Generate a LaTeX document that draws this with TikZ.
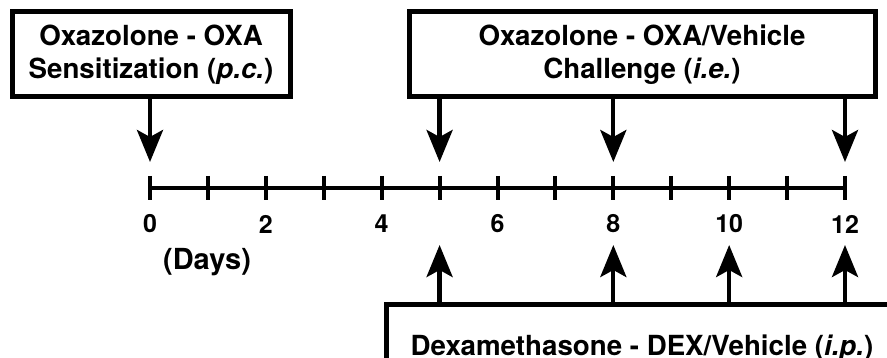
\documentclass[tikz,border=0pt]{standalone}
\usepackage{fontspec}
\setmainfont{TeX Gyre Heros}
\usetikzlibrary{arrows.meta,calc}
\begin{document}
\begin{tikzpicture}[x=1pt,y=-1pt,
  box/.style={draw, line width=5pt, align=center, inner sep=0pt,
    font=\bfseries\fontsize{27.7}{33}\selectfont},
  arr/.style={line width=4.3pt, -{Stealth[length=32pt 0, width=26pt 0, inset=7pt 0]}},
  axisline/.style={line width=4pt},
  num/.style={font=\bfseries\fontsize{25}{30}\selectfont},
  unitlabel/.style={font=\bfseries\fontsize{29}{34}\selectfont}
]
\useasboundingbox (0,0) rectangle (887,358);

% treatment boxes
\node[box, minimum width=278pt, minimum height=85pt] (sens) at (151,54.5)
  {Oxazolone - OXA\\Sensitization (\textit{p.c.})};
\node[box, minimum width=466pt, minimum height=85pt] (chal) at (642,54.5)
  {Oxazolone - OXA/Vehicle\\Challenge (\textit{i.e.})};
\node[box, minimum width=512pt, minimum height=86pt] (dex) at (642,348)
  {Dexamethasone - DEX/Vehicle (\textit{i.p.})};

% time axis with one tick per day
\foreach \i in {0,...,12}
  \coordinate (t\i) at ({150+57.917*\i},188);
\draw[axisline] (t0) -- (t12);
\foreach \i in {0,...,12}
  \draw[axisline] ($(t\i)+(0,-12)$) -- ($(t\i)+(0,12)$);
\foreach \i in {0,2,...,12}
  \node[num] (n\i) at ($(t\i)+(0,36)$) {\i};
\node[unitlabel] (days) at (207,262) {(Days)};

% arrow tips above and below the axis
\foreach \i in {0,5,8,12}
  \coordinate (d\i) at ($(t\i)+(0,-26)$);
\foreach \i in {5,8,10,12}
  \coordinate (u\i) at ($(t\i)+(0,57)$);

% sensitization and challenge days
\draw[arr] (sens.south -| t0) -- (d0);
\foreach \i in {5,8,12}
  \draw[arr] (chal.south -| t\i) -- (d\i);

% dexamethasone / vehicle days
\foreach \i in {5,8,10,12}
  \draw[arr] (dex.north -| t\i) -- (u\i);
\end{tikzpicture}
\end{document}
